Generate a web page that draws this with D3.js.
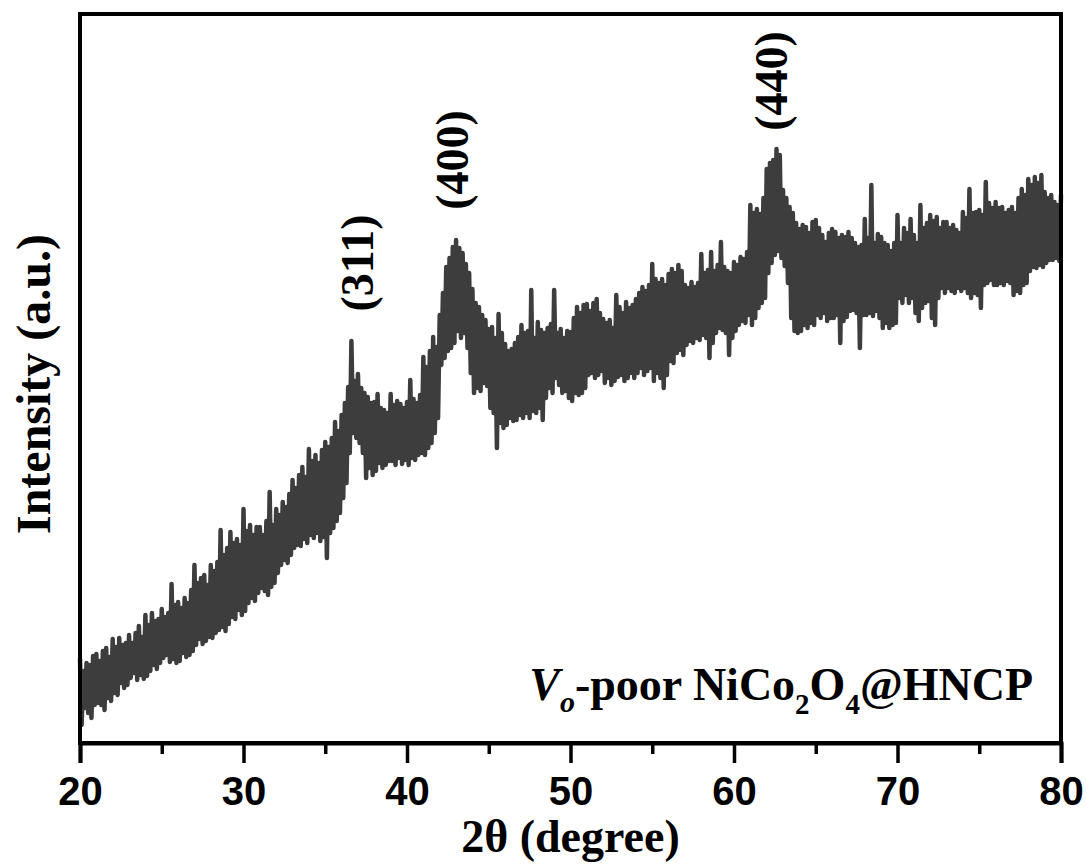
<!DOCTYPE html>
<html>
<head>
<meta charset="utf-8">
<script src="https://cdn.jsdelivr.net/npm/d3@7"></script>
<style>
  body { margin: 0; background: #fff; }
  svg { display: block; }
</style>
</head>
<body>
<div id="chart"></div>
<script>
// XRD pattern (arbitrary units), 20..80 deg in 0.1 deg steps
const startAngle = 20;
const stepAngle = 0.1;
const intensity = [
  84, 18, 72, 35, 80, 30, 78, 25, 87, 38,          // 20
  89, 40, 82, 38, 92, 33, 95, 45, 86, 42,          // 21
  104, 50, 96, 48, 105, 60, 98, 55, 100, 58,       // 22
  108, 65, 100, 70, 110, 63, 117, 68, 106, 64,     // 23
  128, 67, 118, 72, 130, 78, 122, 74, 124, 80,     // 24
  134, 85, 126, 88, 130, 81, 159, 84, 138, 80,     // 25
  141, 82, 135, 90, 145, 86, 140, 88, 153, 92,     // 26
  178, 98, 160, 104, 165, 99, 168, 102, 158, 106,  // 27
  178, 105, 172, 110, 181, 113, 213, 116, 188, 112,// 28
  195, 119, 211, 126, 200, 124, 204, 133, 198, 128,// 29
  234, 132, 212, 140, 218, 145, 208, 142, 216, 150,// 30
  216, 155, 208, 152, 222, 148, 251, 156, 218, 160,// 31
  234, 170, 228, 178, 241, 183, 236, 180, 249, 188,// 32
  263, 195, 255, 198, 268, 197, 276, 204, 266, 200,// 33
  294, 208, 282, 205, 288, 210, 280, 202, 293, 206,// 34
  301, 185, 296, 210, 305, 215, 321, 222, 312, 230,// 35
  328, 245, 340, 260, 356, 290, 402, 310, 362, 305,// 36
  369, 300, 355, 290, 350, 265, 346, 275, 340, 268,// 37
  341, 272, 349, 280, 335, 275, 333, 278, 330, 282,// 38
  349, 282, 338, 278, 342, 285, 339, 279, 335, 283,// 39
  341, 278, 363, 285, 344, 283, 340, 288, 348, 290,// 40
  386, 288, 376, 295, 392, 300, 406, 310, 396, 325,// 41
  428, 378, 450, 385, 476, 392, 485, 395, 496, 400,// 42
  503, 412, 495, 405, 490, 410, 479, 395, 470, 370,// 43
  454, 350, 440, 355, 436, 352, 428, 360, 423, 357,// 44
  414, 335, 416, 330, 405, 295, 429, 320, 410, 315,// 45
  399, 318, 392, 325, 394, 322, 400, 323, 406, 328,// 46
  418, 325, 410, 330, 412, 325, 453, 332, 405, 330,// 47
  421, 335, 413, 323, 410, 345, 415, 355, 419, 350,// 48
  453, 365, 410, 358, 414, 350, 405, 352, 412, 345,// 49
  411, 342, 425, 350, 436, 348, 430, 350, 438, 355,// 50
  439, 368, 432, 370, 440, 365, 444, 368, 430, 372,// 51
  424, 360, 420, 365, 423, 358, 415, 362, 448, 366,// 52
  436, 368, 430, 362, 441, 365, 435, 370, 438, 365,// 53
  444, 370, 450, 375, 456, 368, 452, 372, 458, 375,// 54
  479, 362, 464, 370, 460, 365, 464, 355, 458, 368,// 55
  469, 382, 474, 380, 470, 390, 478, 393, 472, 388,// 56
  458, 398, 455, 402, 461, 400, 456, 405, 460, 403,// 57
  489, 408, 470, 405, 473, 385, 491, 400, 472, 410,// 58
  478, 415, 501, 413, 476, 410, 472, 388, 470, 405,// 59
  481, 412, 478, 418, 486, 422, 484, 420, 491, 428,// 60
  538, 418, 530, 425, 534, 435, 529, 440, 545, 445,// 61
  574, 470, 580, 480, 583, 488, 594, 492, 588, 485,// 62
  553, 477, 545, 460, 536, 425, 530, 412, 520, 410,// 63
  514, 412, 518, 418, 516, 415, 510, 420, 521, 418,// 64
  523, 428, 515, 425, 508, 430, 501, 422, 510, 425,// 65
  514, 425, 511, 428, 505, 400, 508, 422, 506, 426,// 66
  511, 432, 505, 433, 500, 430, 496, 395, 498, 428,// 67
  524, 428, 505, 430, 558, 427, 500, 432, 509, 425,// 68
  506, 415, 500, 420, 498, 415, 492, 418, 500, 420,// 69
  528, 445, 500, 440, 515, 448, 510, 440, 524, 445,// 70
  508, 430, 500, 422, 538, 435, 515, 440, 520, 442,// 71
  528, 425, 522, 418, 526, 445, 515, 455, 521, 450,// 72
  521, 455, 515, 452, 518, 450, 513, 455, 510, 452,// 73
  531, 455, 525, 450, 554, 445, 530, 450, 531, 448,// 74
  533, 435, 528, 458, 561, 460, 540, 463, 535, 458,// 75
  541, 458, 535, 460, 536, 458, 530, 462, 533, 460,// 76
  536, 448, 530, 452, 545, 450, 554, 458, 548, 460,// 77
  564, 472, 558, 476, 566, 475, 560, 478, 568, 476,// 78
  551, 480, 545, 483, 548, 483, 541, 485, 538, 482,// 79
  548                                              // 80
];

const xTicks = [20, 30, 40, 50, 60, 70, 80];
const xMinorTicks = [25, 35, 45, 55, 65, 75];
const peakLabels = ["(311)", "(400)", "(440)"];
const peakAngles = [36.7, 43.0, 62.5];

// size of plot
const width = 1086;
const height = 865;
const margin = {top: 14, right: 25, bottom: 122, left: 80};

const svg = d3.select("#chart")
  .append("svg")
  .attr("width", width)
  .attr("height", height);

const x = d3.scaleLinear()
  .domain([20, 80])
  .range([margin.left, width - margin.right]);

const y = d3.scaleLinear()
  .domain([0, 729])
  .range([height - margin.bottom, margin.top]);

const data = intensity.map((v, i) => ({angle: startAngle + i * stepAngle, value: v}));

// the trace
const line = d3.line()
  .x(d => x(d.angle))
  .y(d => y(d.value));

svg.append("path")
  .datum(data)
  .attr("fill", "none")
  .attr("stroke", "#3d3d3d")
  .attr("stroke-width", 4.5)
  .attr("stroke-linejoin", "round")
  .attr("stroke-linecap", "round")
  .attr("d", line);

// frame
svg.append("rect")
  .attr("x", margin.left)
  .attr("y", margin.top)
  .attr("width", x(80) - x(20))
  .attr("height", y(0) - y(729))
  .attr("fill", "none")
  .attr("stroke", "#000")
  .attr("stroke-width", 4);

// x axis, major and minor ticks
const xAxis = svg.append("g")
  .attr("transform", `translate(0,${y(0)})`)
  .call(d3.axisBottom(x).tickValues(xTicks).tickSize(20).tickPadding(14).tickFormat(d3.format("d")));

svg.append("g")
  .attr("transform", `translate(0,${y(0)})`)
  .call(d3.axisBottom(x).tickValues(xMinorTicks).tickSize(11).tickFormat(""))
  .select(".domain").remove();

svg.selectAll(".tick line")
  .attr("stroke", "#000")
  .attr("stroke-width", 3.5);
xAxis.select(".domain").attr("stroke-width", 4);
xAxis.selectAll(".tick text")
  .attr("fill", "#000")
  .style("font-family", "'Liberation Sans', Arial, sans-serif")
  .style("font-weight", "bold")
  .style("font-size", "40px");

// axis titles
svg.append("text")
  .attr("x", (x(20) + x(80)) / 2)
  .attr("y", 852)
  .attr("text-anchor", "middle")
  .style("font-family", "'Liberation Serif', 'Times New Roman', serif")
  .style("font-weight", "bold")
  .style("font-size", "46px")
  .text("2θ (degree)");

svg.append("text")
  .attr("transform", "translate(50,384) rotate(-90)")
  .attr("text-anchor", "middle")
  .style("font-family", "'Liberation Serif', 'Times New Roman', serif")
  .style("font-weight", "bold")
  .style("font-size", "48px")
  .text("Intensity (a.u.)");

// peak labels, set just right of and above each peak
const labelOffsets = [[20, 263], [12, 160], [12, 81]];
peakLabels.forEach((lab, i) => {
  const px = x(peakAngles[i]) + labelOffsets[i][0];
  svg.append("text")
    .attr("transform", `translate(${px},${labelOffsets[i][1]}) rotate(-90)`)
    .attr("text-anchor", "middle")
    .style("font-family", "'Liberation Serif', 'Times New Roman', serif")
    .style("font-weight", "bold")
    .style("font-size", "46px")
    .text(lab);
});

// sample name
const name = svg.append("text")
  .attr("x", 1033)
  .attr("y", 700)
  .attr("text-anchor", "end")
  .style("font-family", "'Liberation Serif', 'Times New Roman', serif")
  .style("font-weight", "bold")
  .style("font-size", "46px");
name.append("tspan").style("font-style", "italic").text("V");
name.append("tspan").style("font-style", "italic").style("font-size", "30px").attr("dy", 12).text("o");
name.append("tspan").attr("dy", -12).text("-poor NiCo");
name.append("tspan").style("font-size", "29px").attr("dy", 14).text("2");
name.append("tspan").attr("dy", -14).text("O");
name.append("tspan").style("font-size", "29px").attr("dy", 14).text("4");
name.append("tspan").attr("dy", -14).text("@HNCP");
</script>
</body>
</html>
